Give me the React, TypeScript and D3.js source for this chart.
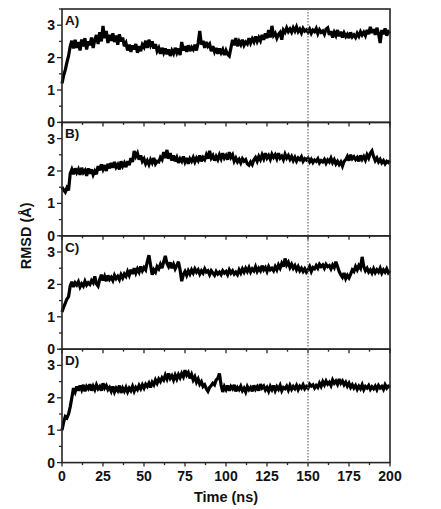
import React from 'react'
import * as d3 from 'd3'

// RMSD traces (Å), one value per ns from 0 to 200 ns
const panelLabels = ['A)', 'B)', 'C)', 'D)']

const rmsdA = [
  1.20, 1.45, 1.62, 1.85, 2.05, 2.35, 2.52, 2.28, 2.55, 2.30,
  2.48, 2.22, 2.56, 2.35, 2.60, 2.25, 2.50, 2.38, 2.62, 2.30,
  2.55, 2.70, 2.42, 2.78, 2.50, 2.98, 2.60, 2.82, 2.45, 2.70,
  2.52, 2.75, 2.48, 2.68, 2.40, 2.72, 2.50, 2.62, 2.35, 2.45,
  2.22, 2.40, 2.18, 2.38, 2.25, 2.42, 2.15, 2.35, 2.20, 2.40,
  2.32, 2.52, 2.30, 2.55, 2.38, 2.50, 2.28, 2.42, 2.20, 2.30,
  2.12, 2.30, 2.15, 2.28, 2.10, 2.25, 2.05, 2.22, 2.12, 2.30,
  2.15, 2.28, 2.08, 2.48, 2.22, 2.35, 2.18, 2.38, 2.20, 2.32,
  2.25, 2.40, 2.22, 2.45, 2.82, 2.40, 2.52, 2.30, 2.48, 2.35,
  2.42, 2.20, 2.35, 2.18, 2.30, 2.12, 2.28, 2.15, 2.25, 2.08,
  2.22, 2.10, 2.05, 2.30, 2.55, 2.38, 2.60, 2.35, 2.50, 2.40,
  2.55, 2.38, 2.48, 2.42, 2.60, 2.45, 2.58, 2.48, 2.65, 2.50,
  2.62, 2.52, 2.70, 2.55, 2.75, 2.60, 2.85, 2.62, 2.98, 2.68,
  2.75, 2.60, 2.72, 2.78, 2.55, 2.85, 2.78, 2.92, 2.80, 2.88,
  2.78, 2.92, 2.82, 2.95, 2.80, 2.88, 2.76, 2.90, 2.82, 2.86,
  2.78, 2.88, 2.75, 2.85, 2.80, 2.90, 2.74, 2.86, 2.78, 2.82,
  2.72, 2.88, 2.92, 2.70, 2.82, 2.62, 2.78, 2.68, 2.85, 2.66,
  2.80, 2.62, 2.76, 2.65, 2.72, 2.60, 2.78, 2.64, 2.70, 2.62,
  2.75, 2.66, 2.80, 2.70, 2.78, 2.68, 2.85, 2.72, 2.95, 2.76,
  2.88, 2.70, 2.92, 2.74, 2.45, 2.85, 2.72, 2.90, 2.68, 2.80, 2.75,
]

const rmsdB = [
  1.50, 1.42, 1.35, 1.48, 1.40, 1.92, 2.05, 1.90, 2.08, 1.95,
  2.05, 1.88, 2.10, 1.95, 2.02, 1.85, 2.08, 1.92, 2.05, 1.88,
  2.00, 1.90, 2.15, 2.02, 2.20, 2.05, 2.18, 2.00, 2.22, 2.08,
  2.25, 2.10, 2.28, 2.12, 2.20, 2.05, 2.30, 2.15, 2.25, 2.12,
  2.30, 2.18, 2.40, 2.28, 2.62, 2.45, 2.55, 2.35, 2.48, 2.30,
  2.38, 2.22, 2.32, 2.20, 2.35, 2.25, 2.40, 2.22, 2.30, 2.28,
  2.42, 2.35, 2.58, 2.40, 2.65, 2.38, 2.55, 2.32, 2.48, 2.30,
  2.42, 2.25, 2.38, 2.30, 2.45, 2.28, 2.40, 2.22, 2.38, 2.30,
  2.42, 2.28, 2.40, 2.32, 2.48, 2.30, 2.42, 2.35, 2.50, 2.38,
  2.62, 2.40, 2.48, 2.32, 2.45, 2.35, 2.50, 2.38, 2.55, 2.40,
  2.48, 2.35, 2.58, 2.42, 2.50, 2.30, 2.40, 2.28, 2.36, 2.25,
  2.38, 2.30, 2.35, 2.22, 2.18, 2.28, 2.20, 2.35, 2.42, 2.30,
  2.45, 2.35, 2.50, 2.38, 2.55, 2.40, 2.48, 2.36, 2.52, 2.42,
  2.50, 2.38, 2.55, 2.40, 2.46, 2.35, 2.52, 2.40, 2.48, 2.36,
  2.45, 2.32, 2.42, 2.30, 2.40, 2.35, 2.44, 2.30, 2.38, 2.34,
  2.40, 2.28, 2.36, 2.26, 2.34, 2.30, 2.38, 2.25, 2.32, 2.28,
  2.36, 2.24, 2.34, 2.28, 2.40, 2.26, 2.35, 2.22, 2.30, 2.20,
  2.28, 2.15, 2.30, 2.35, 2.45, 2.32, 2.50, 2.38, 2.44, 2.35,
  2.42, 2.30, 2.48, 2.36, 2.45, 2.34, 2.50, 2.40, 2.55, 2.62,
  2.45, 2.32, 2.40, 2.28, 2.36, 2.25, 2.32, 2.22, 2.30, 2.26, 2.32,
]

const rmsdC = [
  1.15, 1.30, 1.42, 1.55, 1.62, 1.95, 2.08, 1.92, 2.05, 1.98,
  2.08, 1.92, 2.02, 1.95, 2.10, 1.98, 2.05, 2.00, 2.12, 2.05,
  2.25, 2.02, 1.95, 2.15, 2.30, 2.12, 2.25, 2.10, 2.28, 2.15,
  2.22, 2.12, 2.28, 2.18, 2.25, 2.15, 2.30, 2.20, 2.32, 2.25,
  2.40, 2.28, 2.45, 2.32, 2.50, 2.35, 2.48, 2.38, 2.55, 2.42,
  2.52, 2.45, 2.70, 2.90, 2.60, 2.30, 2.45, 2.38, 2.55, 2.48,
  2.62, 2.50, 2.70, 2.88, 2.65, 2.55, 2.68, 2.50, 2.62, 2.48,
  2.58, 2.70, 2.45, 2.10, 2.30, 2.40, 2.28, 2.42, 2.32, 2.45,
  2.35, 2.48, 2.38, 2.45, 2.32, 2.42, 2.35, 2.48, 2.38, 2.42,
  2.30, 2.42, 2.35, 2.28, 2.40, 2.32, 2.38, 2.30, 2.42, 2.35,
  2.40, 2.30, 2.45, 2.35, 2.42, 2.32, 2.38, 2.30, 2.45, 2.35,
  2.48, 2.38, 2.50, 2.40, 2.52, 2.38, 2.48, 2.42, 2.55, 2.40,
  2.50, 2.42, 2.58, 2.45, 2.52, 2.40, 2.55, 2.45, 2.50, 2.42,
  2.55, 2.45, 2.60, 2.50, 2.65, 2.55, 2.80, 2.60, 2.68, 2.52,
  2.62, 2.50, 2.58, 2.45, 2.55, 2.42, 2.50, 2.40, 2.48, 2.38,
  2.45, 2.55, 2.40, 2.52, 2.48, 2.58, 2.50, 2.62, 2.55, 2.60,
  2.50, 2.62, 2.55, 2.58, 2.48, 2.60, 2.52, 2.70, 2.55, 2.40,
  2.30, 2.22, 2.35, 2.18, 2.28, 2.20, 2.32, 2.45, 2.40, 2.55,
  2.45, 2.58, 2.50, 2.85, 2.55, 2.42, 2.50, 2.38, 2.45, 2.35,
  2.48, 2.36, 2.45, 2.38, 2.50, 2.35, 2.45, 2.38, 2.48, 2.36, 2.42,
]

const rmsdD = [
  1.00, 1.25, 1.42, 1.38, 1.50, 1.72, 2.00, 2.30, 2.18, 2.35,
  2.22, 2.38, 2.25, 2.40, 2.20, 2.35, 2.28, 2.42, 2.22, 2.36,
  2.25, 2.40, 2.28, 2.35, 2.22, 2.45, 2.30, 2.38, 2.25, 2.32,
  2.20, 2.35, 2.18, 2.30, 2.22, 2.38, 2.15, 2.30, 2.20, 2.32,
  2.18, 2.30, 2.22, 2.35, 2.20, 2.32, 2.25, 2.38, 2.28, 2.40,
  2.30, 2.42, 2.35, 2.45, 2.32, 2.48, 2.40, 2.55, 2.45, 2.58,
  2.50, 2.62, 2.55, 2.70, 2.58, 2.75, 2.60, 2.68, 2.55, 2.70,
  2.58, 2.72, 2.62, 2.75, 2.65, 2.85, 2.70, 2.78, 2.60, 2.72,
  2.55, 2.65, 2.48, 2.58, 2.42, 2.50, 2.35, 2.40, 2.28, 2.20,
  2.32, 2.38, 2.45, 2.40, 2.55, 2.60, 2.75, 2.40, 2.18, 2.35,
  2.25, 2.38, 2.22, 2.35, 2.28, 2.40, 2.20, 2.32, 2.25, 2.36,
  2.22, 2.30, 2.18, 2.35, 2.25, 2.32, 2.20, 2.38, 2.26, 2.34,
  2.22, 2.42, 2.30, 2.36, 2.24, 2.32, 2.20, 2.35, 2.25, 2.38,
  2.22, 2.34, 2.26, 2.38, 2.22, 2.32, 2.28, 2.36, 2.24, 2.38,
  2.26, 2.35, 2.28, 2.38, 2.25, 2.36, 2.30, 2.40, 2.28, 2.35,
  2.30, 2.42, 2.36, 2.40, 2.30, 2.38, 2.32, 2.45, 2.35, 2.50,
  2.40, 2.52, 2.42, 2.48, 2.38, 2.55, 2.45, 2.52, 2.42, 2.58,
  2.45, 2.52, 2.40, 2.48, 2.36, 2.45, 2.32, 2.40, 2.30, 2.38,
  2.26, 2.36, 2.28, 2.40, 2.25, 2.35, 2.30, 2.38, 2.26, 2.34,
  2.28, 2.36, 2.25, 2.38, 2.30, 2.35, 2.26, 2.40, 2.30, 2.36, 2.32,
]

const series = [rmsdA, rmsdB, rmsdC, rmsdD]
const xTicks = [0, 25, 50, 75, 100, 125, 150, 175, 200]
const yTicks = [0, 1, 2, 3]
const markerTime = 150

const font = '"Liberation Sans", Arial, sans-serif'

export default function App() {
  const width = 441
  const height = 509
  const left = 62
  const right = 390
  const top = 9
  const panelH = 113.4

  const x = d3.scaleLinear().domain([0, 200]).range([left, right])
  const xMinor = d3.range(0, 200.01, 12.5)
  const yMinor = d3.range(0, 3.51, 0.5)
  const bottom = top + panelH * 4

  return (
    <svg width={width} height={height} style={{ position: 'absolute', left: 0, top: 0 }}>
      <rect width={width} height={height} fill="#fff" />
      {series.map((vals, p) => {
        const y0 = top + panelH * p
        const y = d3.scaleLinear().domain([0, 3.5]).range([y0 + panelH, y0])
        const line = d3.line<number>().x((_, i) => x(i)).y(d => y(d))
        return (
          <g key={p}>
            <path d={line(vals) ?? ''} fill="none" stroke="#000" strokeWidth={3.2} strokeLinejoin="miter" strokeMiterlimit={3} />
            <rect x={left} y={y0} width={right - left} height={panelH} fill="none" stroke="#262626" strokeWidth={1.6} />
            {yMinor.map(v => (
              <line key={'ym' + v} x1={left} x2={left - (Number.isInteger(v) ? 5 : 3)} y1={y(v)} y2={y(v)} stroke="#262626" strokeWidth={1.3} />
            ))}
            {xMinor.map(v => (
              <line key={'xm' + v} x1={x(v)} x2={x(v)} y1={y0 + panelH} y2={y0 + panelH + (v % 25 === 0 ? 4 : 2.5)} stroke="#262626" strokeWidth={1.3} />
            ))}
            {yTicks.map(v => (
              <text key={'yl' + v} x={left - 7} y={y(v)} dy="0.36em" textAnchor="end" fontFamily={font} fontWeight="bold" fontSize={14} fill="#111">{v}</text>
            ))}
            <text x={left + 3} y={y0 + 16} fontFamily={font} fontWeight="bold" fontSize={13.5} fill="#111">{panelLabels[p]}</text>
          </g>
        )
      })}
      <line x1={x(markerTime)} x2={x(markerTime)} y1={top} y2={bottom} stroke="#666" strokeWidth={1.2} strokeDasharray="1.5,1.5" />
      {xTicks.map(v => (
        <text key={'xl' + v} x={x(v)} y={bottom + 18} textAnchor="middle" fontFamily={font} fontWeight="bold" fontSize={14} fill="#111">{v}</text>
      ))}
      <text x={(left + right) / 2} y={bottom + 39} textAnchor="middle" fontFamily={font} fontWeight="bold" fontSize={14.5} fill="#111">Time (ns)</text>
      <text transform={`translate(31, ${top + panelH * 2}) rotate(-90)`} textAnchor="middle" fontFamily={font} fontWeight="bold" fontSize={14.5} fill="#111">RMSD (Å)</text>
    </svg>
  )
}
